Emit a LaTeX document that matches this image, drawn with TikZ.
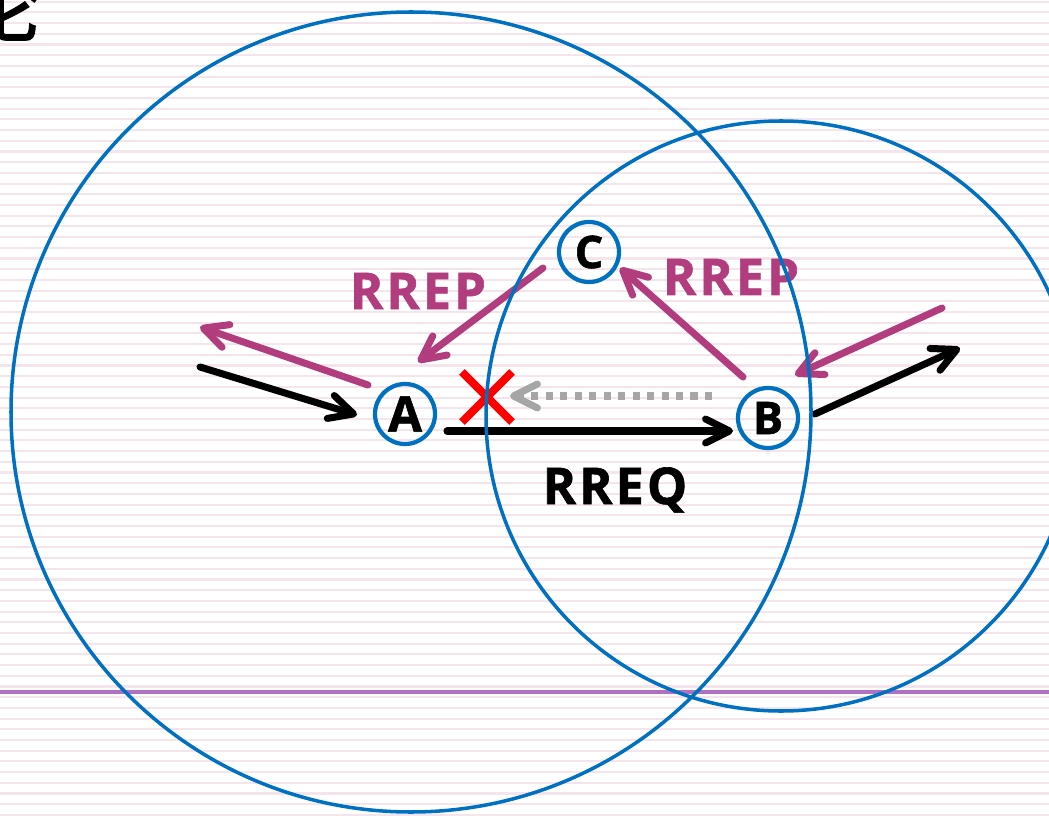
\documentclass[tikz,border=0pt]{standalone}
\usepackage{fontspec}
\newfontfamily\lblfont{Open Sans}[LetterSpace=6,BoldFeatures={FakeBold=1.2}]
\newfontfamily\cjk{Noto Sans CJK SC}[FakeBold=1.5]
\usetikzlibrary{arrows.meta,shapes.misc}
\definecolor{nodeblue}{RGB}{0,112,192}
\definecolor{rrepred}{RGB}{178,61,126}
\definecolor{stripe}{RGB}{246,228,236}
\definecolor{lilac}{RGB}{176,112,196}
\definecolor{dotgray}{RGB}{166,166,166}
\begin{document}
\begin{tikzpicture}[x=0.025cm,y=-0.025cm,
  msgtip/.style={-{Straight Barb[length=17pt,width=17pt,round]}},
  msg/.style={msgtip,line width=5pt,line cap=round},
  rq/.style={msg,black},
  rp/.style={msg,rrepred},
  dotmsg/.style={msgtip,dotgray,line width=5pt,dash pattern=on 5pt off 5.3pt},
  nd/.style={circle,draw=nodeblue,line width=3pt,minimum size=1.5cm,inner sep=0pt,
    font=\lblfont\bfseries\fontsize{32}{32}\selectfont},
  lbl/.style={anchor=base,inner sep=0pt,font=\lblfont\bfseries\fontsize{36}{36}\selectfont},
  rangecircle/.style={draw=nodeblue,line width=2.5pt}]
\useasboundingbox(0,0)rectangle(1049,819);
% lined paper
\foreach \k in {0,...,76} \draw[stripe,line width=1.5pt](0,1.7+10.7*\k)--(1049,1.7+10.7*\k);
\draw[lilac,line width=2.5pt](0,692)--(1049,692);
\node[anchor=base west,inner sep=0pt,font=\cjk\fontsize{57}{57}\selectfont](ttl)at(-40,36){论};
% nodes
\node[nd](A)at(405,414){\fontsize{35}{35}\selectfont A};
\node[nd](B)at(768,418){B};
\node[nd](C)at(589,252){C};
\node[cross out,draw=red,line width=5.7pt,minimum size=1.05cm,inner sep=0pt](X)at(487,397){};
\coordinate(inA)at(200,367);\coordinate(outA)at(200,327);
\coordinate(outB)at(960,348);\coordinate(inB)at(942,308);
% messages
\draw[rq](inA)--([shift={(-48,1)}]A.center);
\draw[rp]([shift={(-37,-29)}]A.center)--(outA);
\draw[rp]([shift={(-46,16)}]C.center)--([shift={(13,-52)}]A.center);
\draw[rp]([shift={(-25,-41)}]B.center)--([shift={(31,16)}]C.center);
\draw[rq]([shift={(42,17)}]A.center)--([shift={(-35,13)}]B.center);
\draw[rq]([shift={(47,-4)}]B.center)--(outB);
\draw[rp](inB)--([shift={(27,-43)}]B.center);
\draw[dotmsg]([shift={(-56,-22)}]B.center)--([shift={(105,-18)}]A.center);
\node[lbl,rrepred](rep1)at(418,309){RREP};
\node[lbl,rrepred](rep2)at(731,295){RREP};
\node[lbl](req)at(615,504){RREQ};
% ranges
\draw[rangecircle](411,412)circle(400);
\draw[rangecircle](781,416)circle(295);
\end{tikzpicture}
\end{document}
